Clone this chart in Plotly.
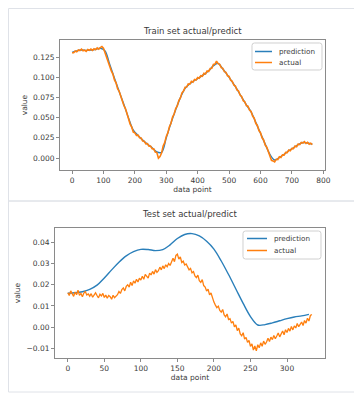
import plotly.graph_objects as go

# ---------------- data ----------------
train_x_actual = list(range(0, 770, 5))
train_actual = [
    0.1306, 0.1307, 0.1329, 0.1318, 0.1342, 0.1335, 0.1353, 0.1331, 0.1340, 0.1324,
    0.1346, 0.1337, 0.1352, 0.1336, 0.1355, 0.1343, 0.1366, 0.1351, 0.1372, 0.1385,
    0.1364, 0.1302, 0.1259, 0.1183, 0.1147, 0.1082, 0.1041, 0.0969, 0.0933, 0.0861,
    0.0828, 0.0762, 0.0723, 0.0651, 0.0613, 0.0541, 0.0498, 0.0421, 0.0383, 0.0322,
    0.0313, 0.0281, 0.0284, 0.0251, 0.0248, 0.0211, 0.0208, 0.0176, 0.0179, 0.0146,
    0.0149, 0.0114, 0.0113, 0.0074, 0.0068, -0.0002, 0.0018, 0.0061, 0.0148, 0.0191,
    0.0268, 0.0311, 0.0389, 0.0431, 0.0508, 0.0546, 0.0613, 0.0646, 0.0714, 0.0745,
    0.0809, 0.0831, 0.0879, 0.0881, 0.0919, 0.0916, 0.0951, 0.0941, 0.0975, 0.0969,
    0.1000, 0.0991, 0.1021, 0.1014, 0.1051, 0.1044, 0.1081, 0.1074, 0.1111, 0.1114,
    0.1162, 0.1166, 0.1203, 0.1171, 0.1163, 0.1121, 0.1114, 0.1071, 0.1064, 0.1021,
    0.1013, 0.0966, 0.0953, 0.0906, 0.0894, 0.0846, 0.0833, 0.0781, 0.0764, 0.0711,
    0.0698, 0.0651, 0.0644, 0.0596, 0.0578, 0.0521, 0.0494, 0.0431, 0.0404, 0.0341,
    0.0314, 0.0251, 0.0224, 0.0161, 0.0134, 0.0071, 0.0039, -0.0029, -0.0036, -0.0049,
    -0.0016, -0.0019, 0.0014, 0.0006, 0.0039, 0.0036, 0.0069, 0.0066, 0.0099, 0.0091,
    0.0119, 0.0116, 0.0149, 0.0141, 0.0174, 0.0166, 0.0194, 0.0186, 0.0204, 0.0181,
    0.0194, 0.0171, 0.0184, 0.0166,
]
train_x_pred = list(range(0, 770, 15))
train_pred = [
    0.1310, 0.1330, 0.1340, 0.1336, 0.1340, 0.1350, 0.1362, 0.1330, 0.1160, 0.0990,
    0.0825, 0.0665, 0.0495, 0.0345, 0.0280, 0.0222, 0.0172, 0.0128, 0.0075, 0.0070,
    0.0250, 0.0435, 0.0600, 0.0750, 0.0865, 0.0922, 0.0962, 0.0998, 0.1038, 0.1082,
    0.1145, 0.1175, 0.1105, 0.1030, 0.0945, 0.0855, 0.0755, 0.0660, 0.0572, 0.0442,
    0.0308, 0.0172, 0.0045, -0.0025, 0.0005, 0.0045, 0.0090, 0.0125, 0.0165, 0.0192,
    0.0186, 0.0172,
]

test_x_actual = list(range(0, 336, 2))
test_actual = [
    0.0162, 0.0149, 0.0171, 0.0158, 0.0145, 0.0166, 0.0153, 0.0174, 0.0150, 0.0159,
    0.0143, 0.0161, 0.0168, 0.0152, 0.0157, 0.0146,
    0.0158, 0.0141, 0.0153, 0.0162, 0.0149, 0.0138, 0.0155, 0.0147, 0.0159, 0.0140,
    0.0151, 0.0136, 0.0149, 0.0144, 0.0132, 0.0150, 0.0139, 0.0147,
    0.0153, 0.0168, 0.0159, 0.0177, 0.0185, 0.0171, 0.0192, 0.0200, 0.0189, 0.0212,
    0.0196, 0.0218, 0.0207, 0.0226, 0.0213, 0.0231, 0.0222,
    0.0240, 0.0226, 0.0249, 0.0238, 0.0231, 0.0255, 0.0246, 0.0263, 0.0250, 0.0271,
    0.0258, 0.0266, 0.0283, 0.0270, 0.0289, 0.0276, 0.0294, 0.0285, 0.0300, 0.0291,
    0.0312, 0.0325, 0.0309, 0.0338, 0.0344, 0.0321, 0.0331, 0.0305, 0.0311, 0.0293,
    0.0298, 0.0281, 0.0270,
    0.0277, 0.0256, 0.0262, 0.0241, 0.0233, 0.0245, 0.0219, 0.0211, 0.0224, 0.0196,
    0.0189, 0.0170, 0.0179, 0.0152, 0.0161, 0.0134, 0.0118,
    0.0104, 0.0092, 0.0099, 0.0079, 0.0071, 0.0083, 0.0058, 0.0049, 0.0062, 0.0036,
    0.0040, 0.0019, 0.0027, 0.0002, 0.0010, -0.0016, -0.0005, -0.0032, -0.0041, -0.0026,
    -0.0057, -0.0048, -0.0072, -0.0063, -0.0091, -0.0079, -0.0108,
    -0.0089, -0.0112, -0.0083, -0.0097, -0.0074, -0.0090, -0.0066, -0.0081, -0.0070, -0.0052,
    -0.0068, -0.0047, -0.0059, -0.0039, -0.0055, -0.0042, -0.0028, -0.0046,
    -0.0031, -0.0018, -0.0036, -0.0012, -0.0025, -0.0006, -0.0019, 0.0003, -0.0013, 0.0006,
    -0.0004, 0.0017, 0.0002, 0.0011, 0.0024, 0.0008, 0.0031, 0.0019, 0.0042, 0.0029,
    0.0055, 0.0060,
]
test_x_pred = list(range(0, 340, 10))
test_pred = [
    0.0160, 0.0162, 0.0167, 0.0178, 0.0198, 0.0232, 0.0270, 0.0306, 0.0336, 0.0356,
    0.0367, 0.0366, 0.0361, 0.0366, 0.0388, 0.0418, 0.0437, 0.0441, 0.0430, 0.0405,
    0.0368, 0.0312, 0.0248, 0.0180, 0.0112, 0.0050, 0.0010, 0.0012, 0.0020, 0.0030,
    0.0040, 0.0048, 0.0053, 0.0060,
]

series_names = ["prediction", "actual"]
train_xticks = [0, 100, 200, 300, 400, 500, 600, 700, 800]
train_yticks = [0.0, 0.025, 0.05, 0.075, 0.1, 0.125]
test_xticks = [0, 50, 100, 150, 200, 250, 300]
test_yticks = [-0.01, 0.0, 0.01, 0.02, 0.03, 0.04]

# ---------------- figure ----------------
W, H = 362, 394
OFF = 8  # page body margin of the html page
BLUE = "#2a7fba"
ORANGE = "#ff7f0e"
TXT = "#3a3a3a"
FONT = "DejaVu Sans"


def P(p):
    """page pixel x -> paper fraction"""
    return (p - OFF) / W


def Q(p):
    """page pixel y -> paper fraction"""
    return 1 - (p - OFF) / H


fig = go.Figure()
fig.add_trace(go.Scatter(x=train_x_pred, y=train_pred, mode="lines", name=series_names[0],
                         line=dict(color=BLUE, width=1.4, shape="spline"),
                         xaxis="x", yaxis="y", showlegend=False))
fig.add_trace(go.Scatter(x=train_x_actual, y=train_actual, mode="lines", name=series_names[1],
                         line=dict(color=ORANGE, width=1.6),
                         xaxis="x", yaxis="y", showlegend=False))
fig.add_trace(go.Scatter(x=test_x_pred, y=test_pred, mode="lines", name=series_names[0],
                         line=dict(color=BLUE, width=1.4, shape="spline"),
                         xaxis="x2", yaxis="y2", showlegend=False))
fig.add_trace(go.Scatter(x=test_x_actual, y=test_actual, mode="lines", name=series_names[1],
                         line=dict(color=ORANGE, width=1.3),
                         xaxis="x2", yaxis="y2", showlegend=False))

axis_common = dict(showgrid=False, zeroline=False, showline=True, mirror=True,
                   linecolor="#8a8a8a", linewidth=1, ticks="outside", ticklen=3,
                   tickcolor="#8a8a8a", tickwidth=1,
                   tickfont=dict(family=FONT, size=7.5, color=TXT),
                   automargin=False)

shapes = [
    dict(type="rect", xref="paper", yref="paper", x0=0.5 / W, x1=P(357),
         y0=Q(201), y1=1 - 0.5 / H, line=dict(color="#dfe2e8", width=1), layer="below"),
    dict(type="rect", xref="paper", yref="paper", x0=0.5 / W, x1=P(357),
         y0=Q(392), y1=Q(201), line=dict(color="#dfe2e8", width=1), layer="below"),
]
annotations = [
    dict(text="Train set actual/predict", x=P(192.5), y=Q(31), xref="paper", yref="paper",
         showarrow=False, xanchor="center", yanchor="middle",
         font=dict(family=FONT, size=8.5, color=TXT)),
    dict(text="Test set actual/predict", x=P(190), y=Q(214), xref="paper", yref="paper",
         showarrow=False, xanchor="center", yanchor="middle",
         font=dict(family=FONT, size=8.5, color=TXT)),
]


def rounded_box(x0, y0, x1, y1, r=2.5):
    def pt(x, y):
        return f"{P(x):.5f},{Q(y):.5f}"
    return (f"M {pt(x0 + r, y0)} L {pt(x1 - r, y0)} Q {pt(x1, y0)} {pt(x1, y0 + r)} "
            f"L {pt(x1, y1 - r)} Q {pt(x1, y1)} {pt(x1 - r, y1)} "
            f"L {pt(x0 + r, y1)} Q {pt(x0, y1)} {pt(x0, y1 - r)} "
            f"L {pt(x0, y0 + r)} Q {pt(x0, y0)} {pt(x0 + r, y0)} Z")


def add_legend(box, line_x0, line_x1, text_x, rows):
    shapes.append(dict(type="path", xref="paper", yref="paper", path=rounded_box(*box),
                       line=dict(color="#d0d0d0", width=1), fillcolor="rgba(255,255,255,0.85)",
                       layer="above"))
    for (ry, color, name) in rows:
        shapes.append(dict(type="line", xref="paper", yref="paper", x0=P(line_x0), x1=P(line_x1),
                           y0=Q(ry), y1=Q(ry), line=dict(color=color, width=1.5), layer="above"))
        annotations.append(dict(text=name, x=P(text_x), y=Q(ry), xref="paper", yref="paper",
                                showarrow=False, xanchor="left", yanchor="middle",
                                font=dict(family=FONT, size=7.2, color=TXT)))


add_legend((252, 43, 322, 70), 255, 272, 277,
           [(51.5, BLUE, series_names[0]), (62.5, ORANGE, series_names[1])])
add_legend((243, 231, 321, 259), 247, 267, 272,
           [(238.5, BLUE, series_names[0]), (250.5, ORANGE, series_names[1])])

fig.update_layout(
    width=W, height=H,
    margin=dict(l=0, r=0, t=0, b=0, autoexpand=False),
    paper_bgcolor="white", plot_bgcolor="white",
    font=dict(family=FONT, color=TXT),
    showlegend=False,
    xaxis=dict(domain=[P(60), P(325)], range=[-38.4, 805.4], anchor="y",
               tickvals=train_xticks,
               title=dict(text="data point", font=dict(size=7.5, color=TXT), standoff=2),
               **axis_common),
    yaxis=dict(domain=[Q(170), Q(40)], range=[-0.0149, 0.1465], anchor="x",
               tickvals=train_yticks, tickformat=".3f",
               title=dict(text="value", font=dict(size=7.5, color=TXT), standoff=4),
               **axis_common),
    xaxis2=dict(domain=[P(55), P(325)], range=[-17.5, 352], anchor="y2",
                tickvals=test_xticks,
                title=dict(text="data point", font=dict(size=7.5, color=TXT), standoff=2),
                **axis_common),
    yaxis2=dict(domain=[Q(358.3), Q(227.7)], range=[-0.0147, 0.0469], anchor="x2",
                tickvals=test_yticks, tickformat=".2f",
                title=dict(text="value", font=dict(size=7.5, color=TXT), standoff=4),
                **axis_common),
    annotations=annotations,
    shapes=shapes,
)

fig.write_html("out.html")
